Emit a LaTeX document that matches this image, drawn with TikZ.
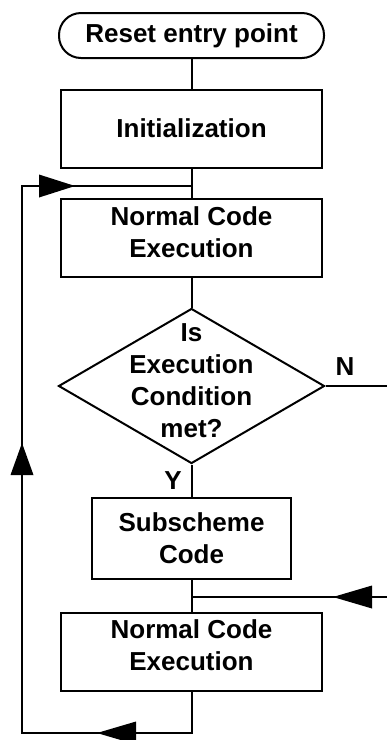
\documentclass[tikz,border=0pt]{standalone}
\usepackage{fontspec}
\setmainfont{Liberation Sans}
\usetikzlibrary{shapes.geometric,calc}
\begin{document}
\begin{tikzpicture}[x=1pt,y=-1pt,line width=2pt,
  txt/.style={font=\fontsize{26}{32}\selectfont\bfseries, align=center, inner sep=0pt},
  box/.style={draw, rectangle, txt, minimum width=261pt, minimum height=78pt},
  term/.style={draw, rectangle, txt, rounded corners=22pt, minimum width=265pt, minimum height=45pt},
  dia/.style={draw, diamond, inner sep=0pt, minimum width=266pt, minimum height=155pt},
  lbl/.style={font=\fontsize{26}{32}\selectfont\bfseries, inner sep=0pt},
  head/.style={fill=black, draw=none}]
\useasboundingbox (0,0) rectangle (387,740);

\node[term] (start) at (191.5,35.5) {Reset entry point};
\node[box] (init) at (191.5,128.5) {Initialization};
\node[box] (nce1) at (191.5,238) {Normal Code\\Execution\rule[-12pt]{0pt}{0pt}};
\node[dia] (dec) at (191.5,386) {};
\node[txt] (dectxt) at (191.5,381) {Is\\Execution\\Condition\\met?};
\node[box, minimum width=199pt, minimum height=81pt] (sub) at (191.5,538.5) {Subscheme\\Code};
\node[box] (nce2) at (191.5,651.5) {Normal Code\\Execution\rule[-12pt]{0pt}{0pt}};

\node[lbl] (nlab) at (345,367) {N};
\node[lbl] (ylab) at (173,481) {Y};

\coordinate (bl) at (22,733);
\coordinate (tl) at (22,186);
\coordinate (mr) at (387,597);
\coordinate (nr) at (387,386);

\draw (start.south) -- (init.north);
\draw (init.south) -- (nce1.north);
\draw (nce1.south) -- (dec.north);
\draw (dec.south) -- (sub.north);
\draw (sub.south) -- (nce2.north);
\draw (dec.east) -- (nr);
\draw (mr) -- (mr -| sub.south);
\draw (nce2.south) |- (bl) -- (tl) -- (tl -| init.south);

% arrowheads
\fill[head] (97,733) -- (136,721.5) -- (136,744.5) -- cycle;
\fill[head] (22,443) -- (10.5,475) -- (33.5,475) -- cycle;
\fill[head] (75,186) -- (39,174.5) -- (39,197.5) -- cycle;
\fill[head] (333,597) -- (372,585.5) -- (372,608.5) -- cycle;
\end{tikzpicture}
\end{document}
